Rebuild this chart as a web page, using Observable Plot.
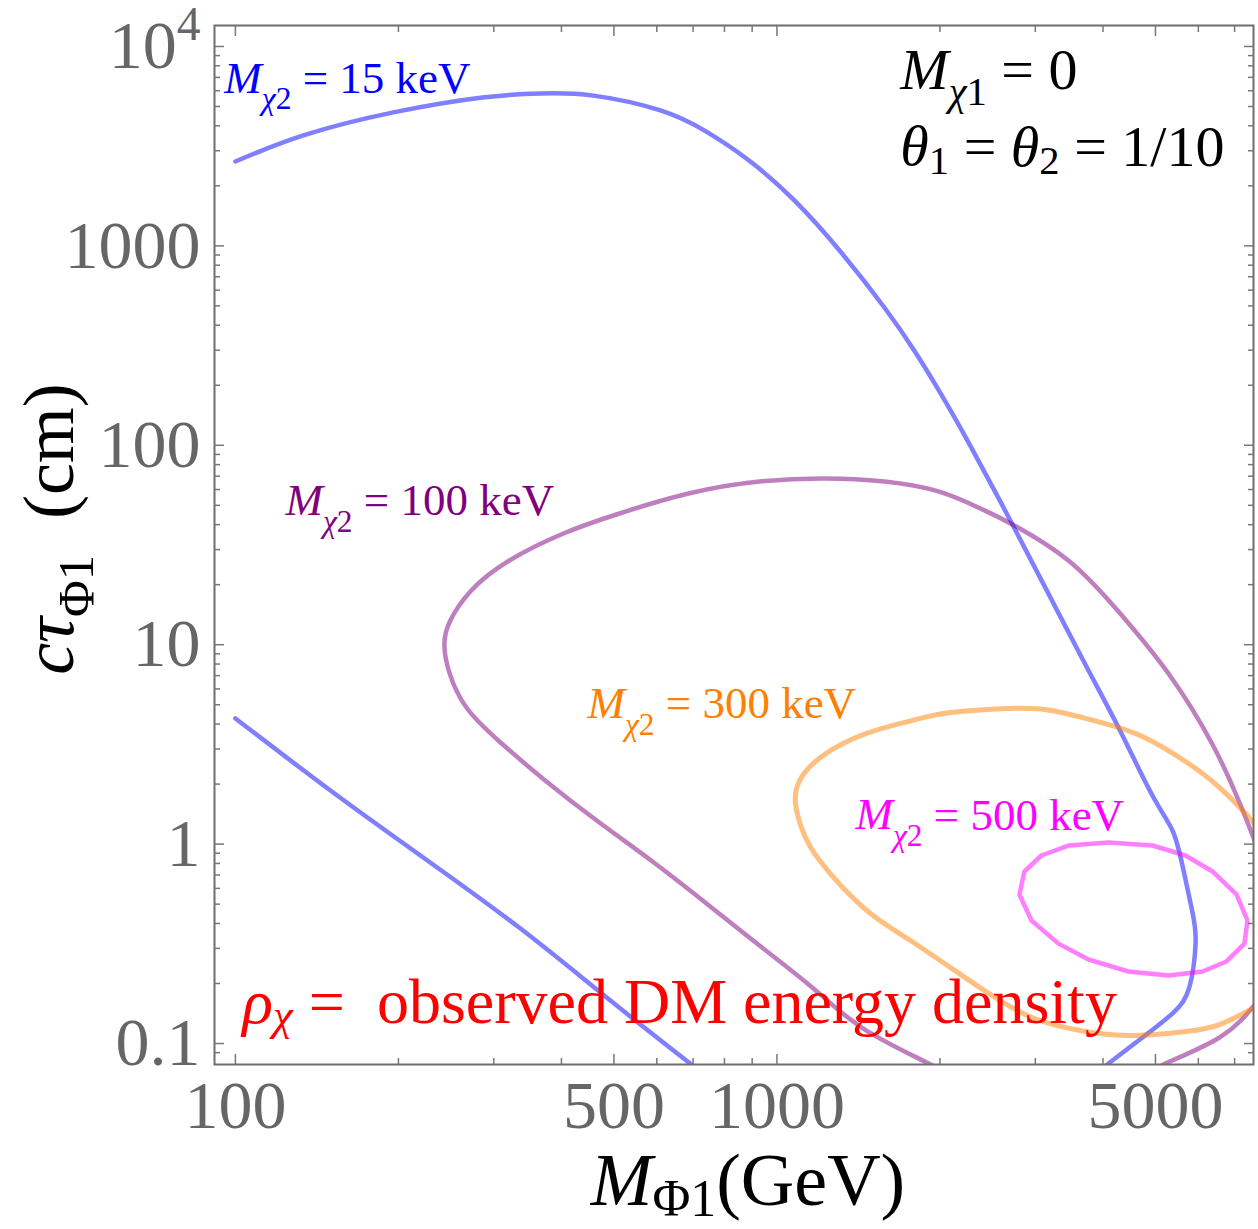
<!DOCTYPE html>
<html>
<head>
<meta charset="utf-8">
<style>
html, body { margin: 0; padding: 0; background: #fff; }
svg { display: block; }
</style>
<script src="https://cdn.jsdelivr.net/npm/d3@7"></script>
<script src="https://cdn.jsdelivr.net/npm/@observablehq/plot@0.6"></script>
</head>
<body>
<div id="chart"></div>
<script>
// ---------- tick values ----------
const xMajorTicks = [100, 500, 1000, 5000];
const xMinorTicks = [200, 300, 400, 600, 700, 800, 900, 2000, 3000, 4000, 6000, 7000];
const yMajorTicks = [0.1, 1, 10, 100, 1000, 10000];
const yMinorTicks = [0.09, 0.2, 0.3, 0.4, 0.5, 0.6, 0.7, 0.8, 0.9,
  2, 3, 4, 5, 6, 7, 8, 9, 20, 30, 40, 50, 60, 70, 80, 90,
  200, 300, 400, 500, 600, 700, 800, 900, 2000, 3000, 4000, 5000, 6000, 7000, 8000, 9000];

// ---------- contour curves: [M_Phi1 (GeV), c tau (cm)] ----------
const curve15keVUpper = [[100, 2650], [133.5, 3580], [195.7, 4670], [285.8, 5550], [365.9, 5810],
  [458.3, 5670], [609.2, 4780], [738, 3760], [893, 2650], [1077, 1690], [1305, 948], [1579, 491],
  [1795, 297], [2004, 182.7], [2267, 101.4], [2722, 40.1], [3213, 16.85], [3761, 7.42], [4309, 3.67],
  [4936, 1.753], [5375, 1.17], [5608, 0.781], [5853, 0.454], [5930, 0.317], [5779, 0.193], [5398, 0.143],
  [4732, 0.1072], [4095, 0.0794], [3900, 0.072]];
const curve15keVLower = [[100, 4.27], [149.8, 1.857], [219.6, 0.877], [336, 0.3774],
  [492.6, 0.1643], [695.2, 0.0785], [730, 0.071]];
const curve100keV = [[1960, 0.072], [1929, 0.078], [1463, 0.1162], [1168, 0.1887], [928.5, 0.31], [741, 0.504],
  [589, 0.818], [470, 1.283], [373.7, 2.08], [307.3, 3.27], [267.1, 4.84], [248.4, 7.25],
  [243.2, 9.91], [248.4, 12.92], [271.6, 18.49], [320.6, 26.44], [403.4, 36.1], [505.2, 44.98],
  [686.5, 57.3], [928.5, 65.8], [1224, 68.2], [1579, 65.8], [1987, 58.7], [2376, 48.2],
  [2722, 40.1], [3453, 26.44], [4272, 14.67], [5284, 7.17], [6372, 3.16], [7147, 1.617], [7683, 0.984]];
const curve100keVCorner = [[5050, 0.072], [5218, 0.0794], [6566, 0.1072], [7683, 0.1605]];
const curve300keV = [[7683, 1.225], [7362, 1.408], [6566, 1.922], [5681, 2.596], [4732, 3.464],
  [3975, 4.07], [3213, 4.68], [2666, 4.79], [2091, 4.57], [1841, 4.27], [1463, 3.59], [1203, 2.72],
  [1101, 2.08], [1082, 1.598], [1115, 1.17], [1203, 0.818], [1444, 0.481], [1764, 0.3285],
  [2416, 0.1844], [2989, 0.1335], [3712, 0.1149], [4592, 0.1097], [5681, 0.1149], [6566, 0.1245],
  [7683, 0.1532]];
const curve500keV = [[2804, 0.559], [2864, 0.729], [3078, 0.877], [3453, 0.984], [4095, 1.019],
  [4936, 0.984], [5681, 0.877], [6372, 0.729], [7056, 0.559], [7394, 0.414], [7300, 0.317],
  [6762, 0.258], [6107, 0.2297], [5284, 0.2193], [4458, 0.2297], [3761, 0.2638], [3311, 0.317],
  [2951, 0.414], [2804, 0.559]];

// ---------- text labels (positions in data units) ----------
const label15 = [{text: "*M*_{*χ*2} = 15 keV", x: 95.4, y: 5875}];
const label100 = [{text: "*M*_{*χ*2} = 100 keV", x: 123.7, y: 44.5}];
const label300 = [{text: "*M*_{*χ*2} = 300 keV", x: 446.7, y: 4.27}];
const label500 = [{text: "*M*_{*χ*2} = 500 keV", x: 1396, y: 1.184}];
const paramLabels = [
  {text: "*M*_{*χ*1} = 0", x: 1690, y: 6150},
  {text: "*θ*_{1} = *θ*_{2} = 1/10", x: 1690, y: 2530}
];
const caption = [{text: "*ρ*_{*χ*} =  observed DM energy density", x: 103, y: 0.1274}];
const xTitle = ["*M*_{Φ1}(GeV)"];
const yTitle = ["*cτ*_{Φ1}  (cm)"];

// subscript drop (in em of the base text) per label; default otherwise
const subDrop = {
  "*M*_{*χ*1} = 0": 0.28,
  "*θ*_{1} = *θ*_{2} = 1/10": 0.15,
  "*M*_{Φ1}(GeV)": 0.15,
  "*cτ*_{Φ1}  (cm)": 0.28,
  "*ρ*_{*χ*} =  observed DM energy density": 0.12
};

const serif = "'Liberation Serif', 'Times New Roman', Times, serif";
const px = d => d[0], py = d => d[1];
const lineOpts = (stroke) => ({x: px, y: py, stroke, strokeOpacity: 0.5, strokeWidth: 4.5, curve: "natural", clip: true});
const tickStroke = "#777";
const blank = () => "";

const chart = Plot.plot({
  width: 1258,
  height: 1229,
  marginLeft: 214,
  marginRight: 5,
  marginTop: 25,
  marginBottom: 165,
  x: {type: "log", domain: [91.5, 7586], axis: null},
  y: {type: "log", domain: [0.0785, 12740], axis: null},
  style: {fontFamily: serif, background: "white", overflow: "visible"},
  marks: [
    Plot.line(curve15keVUpper, lineOpts("#0000ff")),
    Plot.line(curve15keVLower, lineOpts("#0000ff")),
    Plot.line(curve100keV, lineOpts("#800080")),
    Plot.line(curve100keVCorner, lineOpts("#800080")),
    Plot.line(curve300keV, {...lineOpts("#ff8000"), strokeWidth: 5}),
    Plot.line(curve500keV, {...lineOpts("#ff00ff"), curve: "linear"}),

    // frame + ticks (inward)
    Plot.frame({stroke: "#6e6e6e", strokeWidth: 2}),
    Plot.axisX(xMajorTicks, {anchor: "bottom", tickSize: -10, tickPadding: 25, tickFormat: d => String(d),
      fontSize: 68, fontFamily: serif, fill: "#666", stroke: tickStroke, strokeWidth: 1.5, label: null}),
    Plot.axisX(xMinorTicks, {anchor: "bottom", tickSize: -6, tickFormat: blank, stroke: tickStroke, strokeWidth: 1.5, label: null}),
    Plot.axisX(xMajorTicks, {anchor: "top", tickSize: -10, tickFormat: blank, stroke: tickStroke, strokeWidth: 1.5, label: null}),
    Plot.axisX(xMinorTicks, {anchor: "top", tickSize: -6, tickFormat: blank, stroke: tickStroke, strokeWidth: 1.5, label: null}),
    Plot.axisY(yMajorTicks, {anchor: "left", tickSize: -10, tickPadding: 24,
      tickFormat: d => d >= 10000 ? "10^{4}" : String(d),
      fontSize: 68, fontFamily: serif, fill: "#666", stroke: tickStroke, strokeWidth: 1.5, label: null}),
    Plot.axisY(yMinorTicks, {anchor: "left", tickSize: -6, tickFormat: blank, stroke: tickStroke, strokeWidth: 1.5, label: null}),
    Plot.axisY(yMajorTicks, {anchor: "right", tickSize: -10, tickFormat: blank, stroke: tickStroke, strokeWidth: 1.5, label: null}),
    Plot.axisY(yMinorTicks, {anchor: "right", tickSize: -6, tickFormat: blank, stroke: tickStroke, strokeWidth: 1.5, label: null}),

    // annotations
    Plot.text(label15, {x: "x", y: "y", text: "text", fill: "#0000ff", fontSize: 45, fontFamily: serif, textAnchor: "start", lineAnchor: "bottom"}),
    Plot.text(label100, {x: "x", y: "y", text: "text", fill: "#800080", fontSize: 45, fontFamily: serif, textAnchor: "start", lineAnchor: "bottom"}),
    Plot.text(label300, {x: "x", y: "y", text: "text", fill: "#ff8000", fontSize: 45, fontFamily: serif, textAnchor: "start", lineAnchor: "bottom"}),
    Plot.text(label500, {x: "x", y: "y", text: "text", fill: "#ff00ff", fontSize: 45, fontFamily: serif, textAnchor: "start", lineAnchor: "bottom"}),
    Plot.text(paramLabels, {x: "x", y: "y", text: "text", fill: "black", fontSize: 58, fontFamily: serif, textAnchor: "start", lineAnchor: "bottom"}),
    Plot.text(caption, {x: "x", y: "y", text: "text", fill: "#ff0000", fontSize: 64, fontFamily: serif, textAnchor: "start", lineAnchor: "bottom"}),

    // axis titles
    Plot.text(xTitle, {frameAnchor: "bottom", text: d => d, dx: 14, dy: 140, fill: "black", fontSize: 74, fontFamily: serif, textAnchor: "middle", lineAnchor: "bottom"}),
    Plot.text(yTitle, {frameAnchor: "left", text: d => d, rotate: -90, dx: -142, dy: -16, fill: "black", fontSize: 72, fontFamily: serif, textAnchor: "middle", lineAnchor: "bottom"})
  ]
});

// ---------- simple rich text: *italic*, _{sub}, ^{sup} ----------
function parseRich(s) {
  const out = [];
  let italic = false, level = 0, buf = "";
  const flush = () => { if (buf) out.push({t: buf, italic, level}); buf = ""; };
  for (let i = 0; i < s.length; i++) {
    const c = s[i];
    if (c === "*") { flush(); italic = !italic; }
    else if ((c === "_" || c === "^") && s[i + 1] === "{") { flush(); level = c === "_" ? 1 : -1; i++; }
    else if (c === "}" && level !== 0) { flush(); level = 0; }
    else buf += c;
  }
  flush();
  return out;
}
function richify(el) {
  const s = el.textContent;
  if (!/[*]|_\{|\^\{/.test(s)) return;
  const drop = subDrop[s] ?? 0.36;
  const parts = parseRich(s);
  while (el.firstChild) el.removeChild(el.firstChild);
  el.style.whiteSpace = "pre";
  const shift = lvl => lvl === 1 ? drop : lvl === -1 ? -0.42 : 0;
  let level = 0;
  for (const p of parts) {
    const ts = document.createElementNS("http://www.w3.org/2000/svg", "tspan");
    ts.textContent = p.t;
    if (p.italic) ts.setAttribute("font-style", "italic");
    const scale = p.level !== 0 ? 0.7 : 1;
    if (p.level !== 0) ts.setAttribute("font-size", "70%");
    const delta = shift(p.level) - shift(level);
    if (delta) ts.setAttribute("dy", (delta / scale).toFixed(4) + "em");
    el.appendChild(ts);
    level = p.level;
  }
}
chart.querySelectorAll("text").forEach(richify);

document.getElementById("chart").appendChild(chart);
</script>
</body>
</html>
